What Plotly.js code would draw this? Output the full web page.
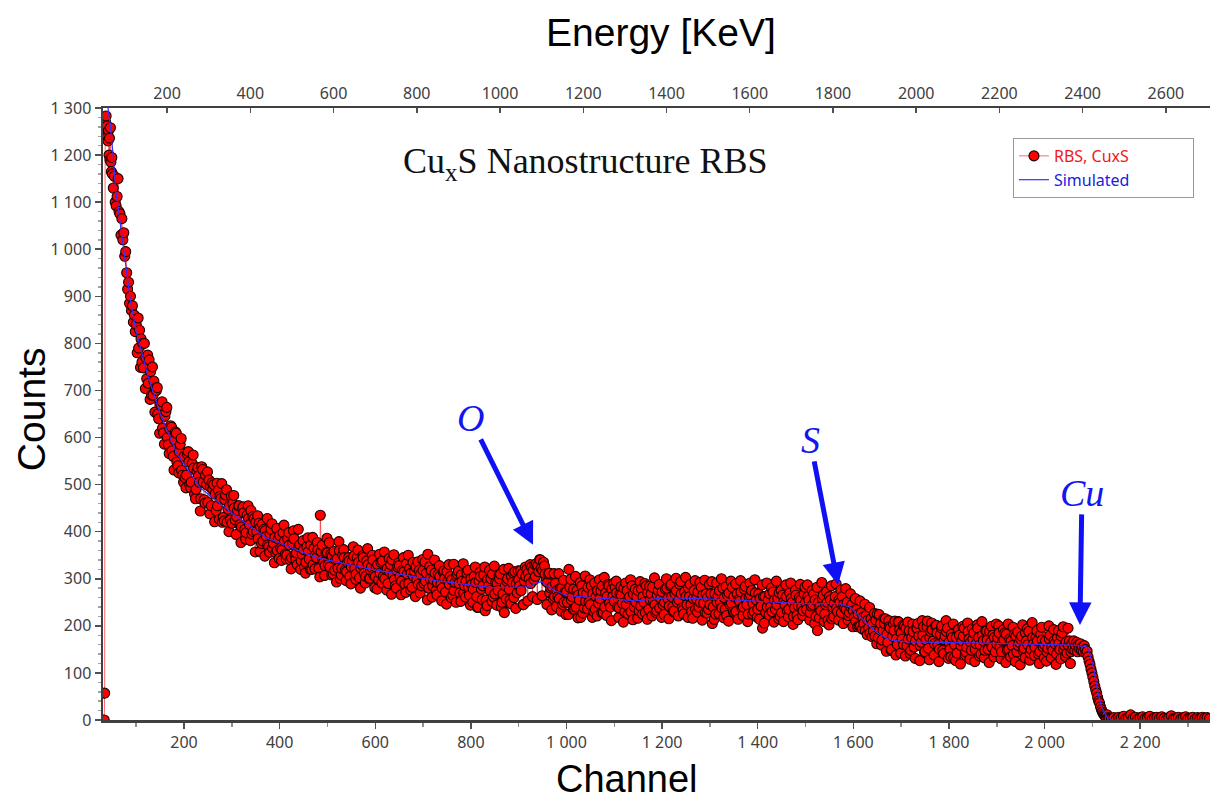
<!DOCTYPE html>
<html>
<head>
<meta charset="utf-8">
<script src="https://cdn.plot.ly/plotly-3.0.1.min.js"></script>
<style>html,body{margin:0;padding:0;background:#fff;}#chart{width:1210px;height:801px;}</style>
</head>
<body>
<div id="chart"></div>
<script>
// ---- Measured spectrum (RBS, CuxS) ----
// Leading region: explicit channels
const earlyChannels = [33,34,35,36,37,38,39,40,41,42,43,44,45,46,47,48,49,50,52,54,56,58,60,62,64,66,68,70,72,74,76,78,80,82,84,86,88,90,92,94,96,98];
const earlyCounts   = [0,57,1255,1270,1283,1245,1262,1240,1230,1252,1200,1236,1190,1258,1185,1165,1195,1160,1130,1155,1100,1092,1112,1150,1080,1075,1030,1065,1020,1035,985,995,950,915,930,885,900,870,880,845,860,825];

// Main region A: channels 100, 105, 110 ... 2055
const mainAStart = 100, mainAStep = 5;
const mainACounts = [
  840,790,810,748,770,715,740,690,705,650,672,620,645,600,618,572,595,548,570,530,
  560,520,548,505,535,490,518,470,505,520,462,495,490,480,455,475,420,468,420,455,
  418,450,432,455,410,440,398,428,445,400,420,385,410,380,402,372,395,365,388,360,
  392,362,380,350,372,345,385,355,368,338,362,335,358,372,330,350,362,435,340,328,
  355,325,348,318,342,360,322,345,315,338,325,348,310,335,322,345,305,330,318,340,
  305,330,312,338,300,322,315,340,298,318,328,295,315,332,290,312,305,325,288,310,
  318,295,352,300,285,312,292,305,280,300,315,288,298,275,305,290,308,270,295,282,
  300,278,292,240,305,285,232,298,275,310,268,290,300,250,228,295,278,305,260,290,
  298,275,245,305,312,290,318,305,328,340,318,310,292,270,283,262,275,258,280,250,
  272,320,255,278,240,265,218,270,252,282,245,268,235,275,258,285,240,262,248,278,
  252,270,238,265,280,245,258,230,268,250,275,242,262,228,270,255,282,245,265,238,
  272,250,280,242,262,232,275,255,268,225,262,280,245,258,235,272,250,265,228,260,
  245,205,268,250,275,238,260,222,270,248,262,230,255,272,240,258,225,265,248,270,
  235,258,195,262,240,268,230,255,245,270,228,252,262,235,258,220,265,242,255,232,
  250,262,228,245,255,190,240,258,225,250,262,215,248,238,255,228,245,235,222,240,
  232,210,225,200,218,190,212,185,205,178,225,192,170,205,182,198,150,190,172,208,
  185,160,195,172,148,188,168,205,158,180,145,210,175,192,162,185,150,200,170,188,
  165,182,132,175,192,158,178,145,188,165,172,150,195,160,180,148,170,188,155,175,
  162,185,145,170,182,150,168,140,178,158,172,148,185,160,142,175,155,168,145,170,
  160,145,172,155,168,140,162,178,150,165,158,145
];

// Main region B: channels 102, 107, 112 ... 2052
const mainBStart = 102, mainBStep = 5;
const mainBCounts = [
  780,828,760,800,725,765,690,720,700,640,668,610,655,585,625,560,612,540,585,520,
  515,565,500,545,480,528,505,538,468,500,510,455,500,445,488,470,430,478,448,425,
  460,425,445,415,450,405,435,415,395,428,400,418,375,405,390,368,405,375,355,385,
  365,398,352,385,340,375,350,330,372,352,325,368,342,320,365,345,322,358,335,355,
  330,352,310,340,322,300,350,318,335,305,338,322,345,302,330,312,338,300,325,308,
  325,298,335,305,320,290,330,308,285,325,305,318,288,310,322,282,315,298,318,285,
  290,312,280,318,298,275,310,288,315,272,295,305,265,292,310,270,295,285,312,265,
  288,305,262,295,278,308,255,285,300,262,292,275,310,268,285,300,255,292,315,270,
  285,310,295,320,300,325,298,332,315,322,335,295,310,280,258,290,262,280,245,272,
  250,282,262,235,275,255,285,238,268,250,285,230,262,248,275,228,270,288,240,262,
  282,240,268,248,230,275,262,285,240,262,232,278,250,285,235,268,252,228,275,258,
  245,278,258,285,240,268,250,288,238,272,245,262,230,275,258,240,282,248,268,235,
  268,240,225,262,250,280,235,265,245,282,228,268,252,238,278,245,262,275,230,255,
  268,242,262,228,255,240,272,235,258,220,265,245,232,270,250,238,222,260,240,268,
  235,255,242,268,220,250,232,265,245,212,255,240,262,230,250,262,238,250,228,245,
  218,235,200,228,205,222,195,215,188,212,175,205,190,215,165,195,178,210,160,192,
  172,200,158,190,175,155,195,178,165,198,170,152,188,168,200,160,182,148,178,195,
  150,175,160,142,180,168,195,155,172,148,185,162,175,140,168,190,150,165,180,145,
  175,155,168,185,148,172,158,182,145,165,178,152,168,188,150,162,175,140,182,155,
  168,152,180,148,162,175,150,185,158,142,168
];

// Main region C (outer scatter of the band): channels 104, 109, 114 ... 2054
const mainCStart = 104, mainCStep = 5;
const mainCCounts = [
  854,749,800,704,775,681,750,654,706,609,676,586,664,566,622,531,609,525,598,505,
  493,570,493,563,470,536,444,532,461,527,438,504,421,503,426,502,423,489,400,476,
  477,394,455,377,453,384,455,381,432,357,434,358,416,348,428,356,417,334,407,343,
  339,414,342,398,321,402,342,405,320,381,312,387,320,388,321,377,304,371,307,386,
  377,308,358,293,379,308,362,296,345,289,368,299,361,280,349,291,364,301,350,281,
  278,352,291,357,276,343,267,351,280,334,266,345,271,350,276,335,262,336,270,341,
  336,255,326,261,340,266,328,253,317,246,330,260,331,250,316,252,332,261,318,244,
  250,325,239,314,256,325,243,318,252,327,244,307,240,320,257,322,247,312,237,317,
  317,245,325,253,330,262,330,256,341,264,327,245,312,234,311,241,311,231,297,224,
  224,299,235,305,217,292,227,306,236,298,218,291,221,298,228,303,222,285,211,291,
  295,218,283,208,291,225,298,213,278,216,294,225,290,214,284,221,302,232,288,218,
  224,300,215,288,230,301,221,294,234,303,218,288,216,296,229,292,212,297,227,288,
  294,214,291,226,300,217,283,210,295,230,289,214,296,222,284,209,291,225,298,218,
  214,287,206,291,223,281,208,295,215,275,209,287,219,291,203,276,213,288,222,282,
  287,212,275,205,282,217,292,209,272,202,285,219,289,212,276,205,279,212,268,198,
  258,198,253,193,246,181,239,177,226,162,224,159,215,146,211,148,204,138,209,142,
  201,136,208,141,204,131,194,126,211,144,198,128,206,138,201,124,196,141,211,131,
  134,204,126,192,119,199,139,206,129,194,124,202,136,209,132,189,122,199,134,204,
  200,130,192,122,204,134,197,124,187,117,202,132,194,127,207,137,190,120,197,132,
  125,200,132,192,118,190,130,198,135,195,120
];

// Cu edge region: channels 2057, 2059 ... 2135
const edgeStart = 2057, edgeStep = 2;
const edgeCounts = [
  162,150,168,148,158,165,145,160,152,162,
  148,155,145,158,150,142,146,134,125,118,
  108,100,91,82,72,64,57,48,40,36,
  28,22,17,13,10,8,6,11,5,3
];

// Background beyond the edge: channels 2140, 2145 ... 2345
const tailStart = 2140, tailStep = 5;
const tailCounts = [
  3,5,2,6,4,8,3,5,11,4,
  6,2,5,7,3,4,8,2,5,6,
  3,7,4,2,5,9,3,4,6,2,
  5,7,3,4,6,2,5,3,6,4,
  5,3
];

// ---- Simulated spectrum ----
const simChannels = [41,46,52,57,66,77,88,100,110,123,150,185,233,302,372,477,587,727,844,921,935,948,960,977,1004,1144,1212,1352,1490,1570,1593,1614,1635,1656,1677,1710,1851,2060,2089,2096,2102,2112,2120,2131,2142,2346];
const simCounts   = [1300,1262,1196,1126,1060,975,890,825,785,736,651,566,494,438,387,345,321,296,281,283,290,294,284,274,264,253,260,255,247,247,240,218,198,181,170,166,164,159,155,135,113,57,25,6,0,0];

// ---- Axis ticks ----
const channelTicks = [200,400,600,800,1000,1200,1400,1600,1800,2000,2200];
const energyTicks  = [200,400,600,800,1000,1200,1400,1600,1800,2000,2200,2400,2600];
const countTicks   = [0,100,200,300,400,500,600,700,800,900,1000,1100,1200,1300];

// ---- Peak labels with arrows ----
const peakLabels = ['O','S','Cu'];
const peakTipCh  = [930,1568,2074];
const peakTipCt  = [372,287,202];
const labelAx    = [-63,-28,2];
const labelAy    = [-127,-145,-132];

function idxRange(start, step, n){ const a=[]; for(let i=0;i<n;i++) a.push(start+step*i); return a; }

// assemble measured points, ordered by channel
const pts = [];
function addSeg(xs, ys){ for(let i=0;i<ys.length;i++) pts.push([xs[i], ys[i]]); }
addSeg(earlyChannels, earlyCounts);
addSeg(idxRange(mainAStart, mainAStep, mainACounts.length), mainACounts);
addSeg(idxRange(mainBStart, mainBStep, mainBCounts.length), mainBCounts);
addSeg(idxRange(mainCStart, mainCStep, mainCCounts.length), mainCCounts);
addSeg(idxRange(edgeStart, edgeStep, edgeCounts.length), edgeCounts);
addSeg(idxRange(tailStart, tailStep, tailCounts.length), tailCounts);
pts.sort((a,b)=>a[0]-b[0]);
const dataX = pts.map(p=>p[0]);
const dataY = pts.map(p=>p[1]);

const pad = '&nbsp;'.repeat(14);
const traces = [
  {
    x: dataX, y: dataY, type: 'scatter', mode: 'lines+markers',
    name: '<span style="color:#f01818">RBS, CuxS</span>' + pad,
    line: {color: 'rgba(255,40,40,0.7)', width: 1},
    marker: {color: '#ff0000', size: 10, line: {color: '#1a0000', width: 1.1}}
  },
  {
    x: simChannels, y: simCounts, type: 'scatter', mode: 'lines',
    name: '<span style="color:#2020e0">Simulated</span>',
    line: {color: '#3030ff', width: 1.2}
  },
  { x: [], y: [], xaxis: 'x2', yaxis: 'y', type: 'scatter', mode: 'markers', showlegend: false, hoverinfo: 'skip' }
];

const tickFont = {family: 'Noto Sans, Open Sans, sans-serif', size: 16, color: '#404040'};
const titleFont = {family: 'Liberation Sans, Arial, sans-serif', size: 39, color: '#000'};

const annotations = [
  {xref:'paper', yref:'paper', x:0.436, y:0.91, xanchor:'center', yanchor:'middle',
   text:'Cu<sub>x</sub>S Nanostructure RBS', showarrow:false,
   font:{family:'Liberation Serif, DejaVu Serif, serif', size:36, color:'#111'}},
  {xref:'paper', yref:'paper', x:0.4734, y:-0.0964, xanchor:'center', yanchor:'middle',
   text:'Channel', showarrow:false, font: {family: 'Liberation Sans, Arial, sans-serif', size: 38, color: '#000'}},
  {xref:'paper', yref:'paper', x:0.504, y:1.124, xanchor:'center', yanchor:'middle',
   text:'Energy [KeV]', showarrow:false, font: titleFont},
  {xref:'paper', yref:'paper', x:-0.065, y:0.508, xanchor:'center', yanchor:'middle', textangle:-90,
   text:'Counts', showarrow:false, font: titleFont}
];
for (let i=0;i<peakLabels.length;i++){
  annotations.push({xref:'x', yref:'y', x:peakTipCh[i], y:peakTipCt[i], text:peakLabels[i],
    showarrow:true, ax:labelAx[i], ay:labelAy[i], arrowhead:2, arrowsize:0.9, arrowwidth:5,
    arrowcolor:'#1010f5', standoff:0, borderpad:0,
    font:{family:'Liberation Serif, DejaVu Serif, serif', size:38, color:'#1414f0', style:'italic'}});
}

const layout = {
  width: 1210, height: 801,
  margin: {l: 103, r: 0, t: 108, b: 81, pad: 0},
  paper_bgcolor: '#fff', plot_bgcolor: '#fff',
  separators: '. ',
  showlegend: true,
  font: tickFont,
  xaxis: {
    range: [30.5, 2346], tickvals: channelTicks, ticks: 'outside', ticklen: 6, tickwidth: 1.5, tickcolor: '#505050',
    showline: true, linecolor: '#404040', linewidth: 2.5,
    separatethousands: true, showgrid: false, zeroline: false, tickfont: tickFont,
    minor: {dtick: 100, tick0: 0, ticks: 'outside', ticklen: 4, tickcolor: '#909090', showgrid: false}
  },
  xaxis2: {
    overlaying: 'x', side: 'top', anchor: 'y',
    range: [46, 2706], tickvals: energyTicks, ticks: 'inside', ticklen: 5, tickwidth: 1.5, tickcolor: '#505050',
    showline: true, linecolor: '#404040', linewidth: 2.5,
    showgrid: false, zeroline: false, tickfont: tickFont
  },
  yaxis: {
    range: [0, 1300], tickvals: countTicks, ticks: 'outside', ticklen: 6, tickwidth: 1.5, tickcolor: '#505050',
    showline: true, linecolor: '#404040', linewidth: 2.5,
    separatethousands: true, showgrid: false, zeroline: false, tickfont: tickFont,
    minor: {dtick: 20, tick0: 0, ticks: 'outside', ticklen: 3, tickcolor: '#a0a0a0', showgrid: false}
  },
  legend: {
    x: 0.822, y: 0.951, xanchor: 'left', yanchor: 'top',
    bgcolor: '#fff', bordercolor: '#999', borderwidth: 1,
    font: {family: 'Noto Sans, Open Sans, sans-serif', size: 16, color: '#333'},
    tracegroupgap: 0
  },
  annotations: annotations
};

Plotly.newPlot('chart', traces, layout, {displayModeBar: false, staticPlot: true});
</script>
</body>
</html>
